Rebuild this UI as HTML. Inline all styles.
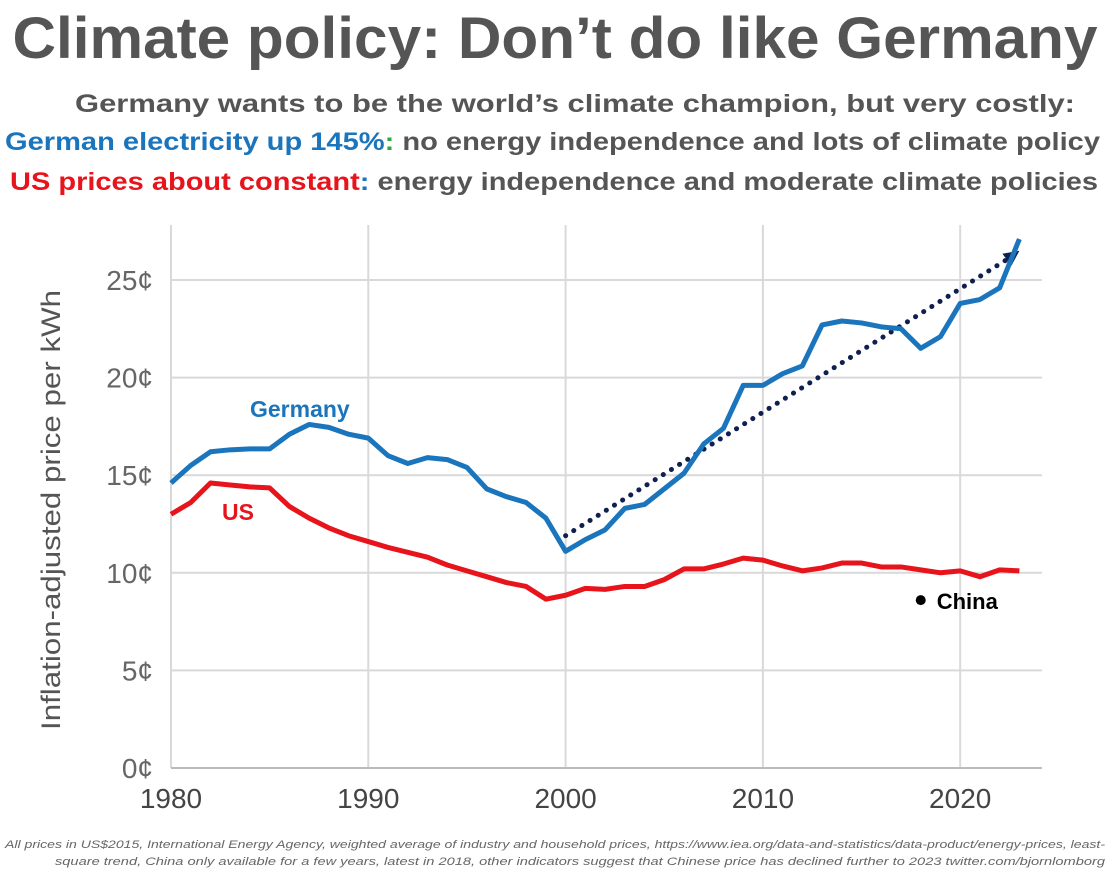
<!DOCTYPE html>
<html><head><meta charset="utf-8"><style>
body{margin:0;background:#fff;width:1110px;height:874px;overflow:hidden;font-family:"Liberation Sans",sans-serif}
</style></head><body>
<svg width="1110" height="874" id="svg" font-family="Liberation Sans, sans-serif">
<text x="555" y="58" text-anchor="middle" font-size="58" font-weight="bold" fill="#555" textLength="1085" lengthAdjust="spacingAndGlyphs">Climate policy: Don’t do like Germany</text>
<text x="575" y="112" text-anchor="middle" font-size="25" font-weight="bold" fill="#555" textLength="1000" lengthAdjust="spacingAndGlyphs">Germany wants to be the world’s climate champion, but very costly:</text>
<text x="1100" y="150" text-anchor="end" font-size="25" font-weight="bold" textLength="1095" lengthAdjust="spacingAndGlyphs"><tspan fill="#1a75bc">German electricity up 145%</tspan><tspan fill="#2eaa3c">:</tspan><tspan fill="#555"> no energy independence and lots of climate policy</tspan></text>
<text x="1098" y="190" text-anchor="end" font-size="25" font-weight="bold" textLength="1088" lengthAdjust="spacingAndGlyphs"><tspan fill="#e8141c">US prices about constant</tspan><tspan fill="#1a75bc">:</tspan><tspan fill="#555"> energy independence and moderate climate policies</tspan></text>
<text transform="translate(60,510) rotate(-90)" text-anchor="middle" font-size="27" fill="#555" textLength="440" lengthAdjust="spacingAndGlyphs">Inflation-adjusted price per kWh</text>
<g id="grid"></g><g id="marks"></g>
<text x="1105" y="848" text-anchor="end" font-size="11" font-style="italic" fill="#666" textLength="1100" lengthAdjust="spacingAndGlyphs">All prices in US$2015, International Energy Agency, weighted average of industry and household prices, https://www.iea.org/data-and-statistics/data-product/energy-prices, least-</text>
<text x="1105" y="865" text-anchor="end" font-size="11" font-style="italic" fill="#666" textLength="1050" lengthAdjust="spacingAndGlyphs">square trend, China only available for a few years, latest in 2018, other indicators suggest that Chinese price has declined further to 2023 twitter.com/bjornlomborg</text>
</svg>
<script>
const years=[1980,1981,1982,1983,1984,1985,1986,1987,1988,1989,1990,1991,1992,1993,1994,1995,1996,1997,1998,1999,2000,2001,2002,2003,2004,2005,2006,2007,2008,2009,2010,2011,2012,2013,2014,2015,2016,2017,2018,2019,2020,2021,2022,2023];
const germany=[14.6,15.5,16.2,16.3,16.35,16.35,17.1,17.6,17.45,17.1,16.9,16.0,15.6,15.9,15.8,15.4,14.3,13.9,13.6,12.8,11.1,11.7,12.2,13.3,13.5,14.3,15.1,16.6,17.4,19.6,19.6,20.2,20.6,22.7,22.9,22.8,22.6,22.5,21.5,22.1,23.8,24.0,24.6,27.1];
const us=[13.0,13.6,14.6,14.5,14.4,14.35,13.4,12.8,12.3,11.9,11.6,11.3,11.05,10.8,10.4,10.1,9.8,9.5,9.3,8.65,8.85,9.2,9.15,9.3,9.3,9.65,10.2,10.2,10.45,10.75,10.65,10.35,10.1,10.25,10.5,10.5,10.3,10.3,10.15,10.0,10.1,9.8,10.15,10.1];
const chinaYear=[2018], chinaVal=[8.6];
const trendYears=[2000,2023], trendVals=[11.9,26.5];
const yTicks=[0,5,10,15,20,25];
const xTicks=[1980,1990,2000,2010,2020];
const X=y=>171+(y-1980)*19.73, Y=v=>768-v*19.52;
const NS="http://www.w3.org/2000/svg";
function mk(p,t,a){const e=document.createElementNS(NS,t);for(const k in a)e.setAttribute(k,a[k]);p.appendChild(e);return e;}
const g=document.getElementById('grid'), m=document.getElementById('marks');
yTicks.forEach(v=>{
 const l=mk(g,'line',{x1:171,x2:1042,y1:Y(v),y2:Y(v),stroke:'#d9d9d9','stroke-width':2});
 
 
 const t=mk(g,'text',{x:153,y:Y(v)+10,'text-anchor':'end','font-size':28,fill:'#666'});t.textContent=v+'¢';
 
 
});
xTicks.forEach(yr=>{
 const l=mk(g,'line',{x1:X(yr),x2:X(yr),y1:225,y2:768,stroke:'#d9d9d9','stroke-width':2});
 
 
 const t=mk(g,'text',{x:X(yr),y:808,'text-anchor':'middle','font-size':28,fill:'#444'});t.textContent=yr;
 
 
});
const ax=mk(g,'line',{x1:171,x2:1042,y1:768,y2:768,stroke:'#bbb','stroke-width':2});


const us_l=mk(m,'polyline',{points:years.map((y,i)=>X(y)+','+Y(us[i])).join(' '),fill:'none',stroke:'#e8141c','stroke-width':5,'stroke-linejoin':'round'});


const tr=mk(m,'line',{x1:X(trendYears[0]),y1:Y(trendVals[0]),x2:X(trendYears[1])-8,y2:Y(trendVals[1])+6,stroke:'#0f1f4f','stroke-width':5,'stroke-dasharray':'0.1 9.5','stroke-linecap':'round'});


const ex=X(trendYears[1]),ey=Y(trendVals[1]);
const ar=mk(m,'polygon',{points:`${ex},${ey} ${ex-17},${ey+3} ${ex-8},${ey+15}`,fill:'#0f1f4f'});


const de=mk(m,'polyline',{points:years.map((y,i)=>X(y)+','+Y(germany[i])).join(' '),fill:'none',stroke:'#1a75bc','stroke-width':5,'stroke-linejoin':'round'});


chinaYear.forEach((y,i)=>{
 const c=mk(m,'circle',{cx:X(y),cy:Y(chinaVal[i]),r:5,fill:'#000'});
 
 
 const t=mk(m,'text',{x:X(y)+16,y:Y(chinaVal[i])+9,'font-size':22,'font-weight':'bold',fill:'#000'});t.textContent='China';
 
 
});
const gl=mk(m,'text',{x:250,y:417,'font-size':23,'font-weight':'bold',fill:'#1a75bc'});gl.textContent='Germany';


const ul=mk(m,'text',{x:222,y:520,'font-size':23,'font-weight':'bold',fill:'#e8141c'});ul.textContent='US';


</script>
</body></html>
